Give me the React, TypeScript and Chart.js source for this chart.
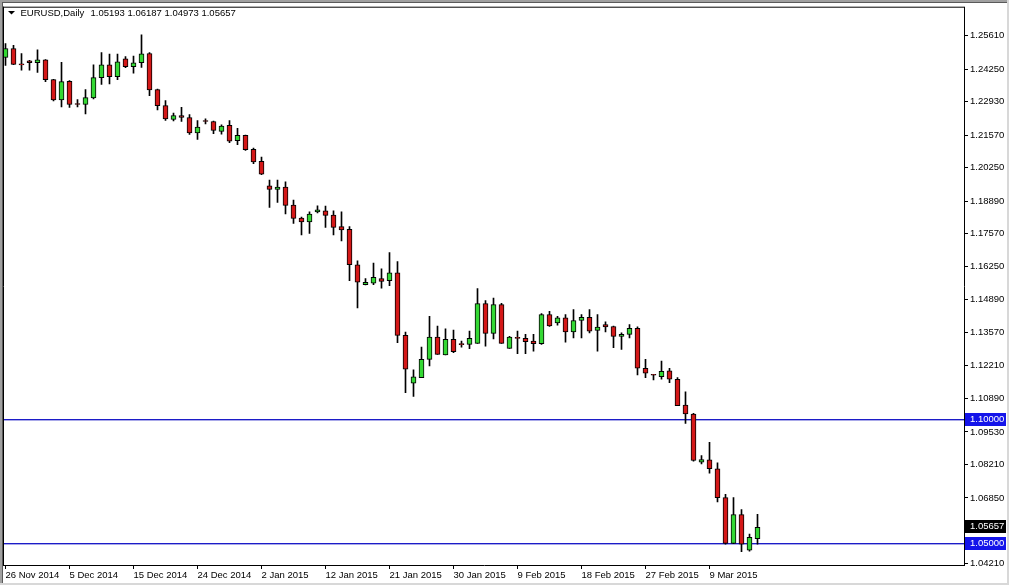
import React, { useEffect, useRef } from "react";
import { Chart, registerables } from "chart.js";

Chart.register(...registerables);

const symbolTitle = "EURUSD,Daily";
const lastOHLC = [1.05193, 1.06187, 1.04973, 1.05657];

const opens = [
  1.24722, 1.25085, 1.24427, 1.24588, 1.24508, 1.24629, 1.23821, 1.22998, 1.23753, 1.22824,
  1.22812, 1.23078, 1.23902, 1.24427, 1.23942, 1.24669, 1.24346, 1.24508, 1.24883, 1.23418,
  1.22771, 1.22206, 1.22368, 1.22287, 1.21665, 1.22138, 1.22125, 1.21722, 1.21964, 1.21342,
  1.21560, 1.20995, 1.20510, 1.19513, 1.19364, 1.19460, 1.18734, 1.18209, 1.18047, 1.18451,
  1.18504, 1.18330, 1.17857, 1.17748, 1.16311, 1.15503, 1.15568, 1.15746, 1.15665, 1.15988,
  1.13444, 1.11506, 1.11732, 1.12475, 1.13376, 1.12649, 1.13283, 1.13081, 1.13081, 1.13121,
  1.14736, 1.13525, 1.14696, 1.12919, 1.13363, 1.13323, 1.13214, 1.13105, 1.14292, 1.13953,
  1.14155, 1.13589, 1.14050, 1.14183, 1.13646, 1.13888, 1.13807, 1.13404, 1.13485, 1.13727,
  1.12112, 1.11841, 1.11773, 1.12003, 1.11667, 1.10618, 1.10254, 1.08300, 1.08397, 1.08034,
  1.06863, 1.05005, 1.06176, 1.04735, 1.05193,
];
const highs = [
  1.25287, 1.25218, 1.24883, 1.24601, 1.25033, 1.24641, 1.23833, 1.24520, 1.23781, 1.23014,
  1.23418, 1.24427, 1.24924, 1.24855, 1.24855, 1.24762, 1.24774, 1.25638, 1.24924, 1.23442,
  1.22973, 1.22461, 1.22703, 1.22408, 1.22166, 1.22230, 1.22138, 1.21988, 1.22166, 1.21843,
  1.21572, 1.21047, 1.20684, 1.19743, 1.19743, 1.19674, 1.18936, 1.18249, 1.18463, 1.18705,
  1.18693, 1.18504, 1.18463, 1.17857, 1.16472, 1.15746, 1.16376, 1.16149, 1.16808, 1.16444,
  1.13577, 1.12043, 1.12972, 1.14223, 1.13820, 1.13711, 1.13658, 1.13214, 1.13618, 1.15342,
  1.14857, 1.14962, 1.14748, 1.13404, 1.13618, 1.13485, 1.13485, 1.14332, 1.14425, 1.14223,
  1.14292, 1.14494, 1.14292, 1.14494, 1.14292, 1.13993, 1.13820, 1.13549, 1.13888, 1.13791,
  1.12475, 1.11869, 1.12406, 1.12112, 1.11732, 1.11155, 1.10278, 1.08571, 1.09108, 1.08276,
  1.06996, 1.06863, 1.06378, 1.05381, 1.06187,
];
const lows = [
  1.24399, 1.24427, 1.24209, 1.24209, 1.24116, 1.23741, 1.22957, 1.22715, 1.22691, 1.22715,
  1.22432, 1.23038, 1.23632, 1.23644, 1.23821, 1.24306, 1.24088, 1.24318, 1.23175, 1.22594,
  1.22166, 1.22150, 1.22125, 1.21601, 1.21399, 1.22029, 1.21625, 1.21613, 1.21261, 1.21181,
  1.20954, 1.20413, 1.19969, 1.18637, 1.18839, 1.18370, 1.17991, 1.17522, 1.17587, 1.18411,
  1.17829, 1.17522, 1.17280, 1.15665, 1.14559, 1.15495, 1.15503, 1.15366, 1.15463, 1.13145,
  1.11126, 1.10965, 1.11732, 1.12205, 1.12677, 1.12649, 1.12742, 1.12972, 1.12903, 1.13121,
  1.13012, 1.13307, 1.13121, 1.12919, 1.12701, 1.12701, 1.12810, 1.13081, 1.13807, 1.13860,
  1.13174, 1.13347, 1.13347, 1.13549, 1.12810, 1.13589, 1.12943, 1.12879, 1.13347, 1.11841,
  1.11732, 1.11639, 1.11667, 1.11530, 1.10589, 1.09875, 1.08340, 1.08235, 1.07856, 1.06685,
  1.04977, 1.04995, 1.04666, 1.04694, 1.04973,
];
const closes = [
  1.25085, 1.24439, 1.24419, 1.24508, 1.24629, 1.23821, 1.22998, 1.23741, 1.22812, 1.22812,
  1.23094, 1.23902, 1.24427, 1.23942, 1.24548, 1.24346, 1.24508, 1.24871, 1.23401, 1.22771,
  1.22230, 1.22368, 1.22287, 1.21665, 1.21895, 1.22125, 1.21762, 1.21936, 1.21330, 1.21560,
  1.20979, 1.20482, 1.19985, 1.19364, 1.19460, 1.18718, 1.18193, 1.18047, 1.18370, 1.18544,
  1.18314, 1.17829, 1.17724, 1.16311, 1.15608, 1.15596, 1.15798, 1.15637, 1.15988, 1.13444,
  1.12071, 1.11760, 1.12475, 1.13376, 1.12677, 1.13283, 1.12782, 1.13073, 1.13323, 1.14736,
  1.13525, 1.14696, 1.13121, 1.13376, 1.13323, 1.13186, 1.13105, 1.14292, 1.13832, 1.14155,
  1.13589, 1.14050, 1.14183, 1.13618, 1.13779, 1.13791, 1.13404, 1.13485, 1.13727, 1.12112,
  1.11910, 1.11829, 1.11982, 1.11667, 1.10589, 1.10254, 1.08369, 1.08409, 1.08034, 1.06863,
  1.05005, 1.06176, 1.04977, 1.05247, 1.05657,
];

const dateLabels = [
  "26 Nov 2014", "5 Dec 2014", "15 Dec 2014", "24 Dec 2014", "2 Jan 2015", "12 Jan 2015",
  "21 Jan 2015", "30 Jan 2015", "9 Feb 2015", "18 Feb 2015", "27 Feb 2015", "9 Mar 2015",
];
const barsPerDateLabel = 8;

const priceTicks = [
  1.2561, 1.2425, 1.2293, 1.2157, 1.2025, 1.1889, 1.1757, 1.1625, 1.1489, 1.1357,
  1.1221, 1.1089, 1.0953, 1.0821, 1.0685, 1.0421,
];
const horizontalLevels = [1.1, 1.05];
const bidPrice = 1.05657;

const BULL = "#34d834";
const BEAR = "#d41818";
const LEVEL_LINE = "#1c1cc8";
const LEVEL_LINE_SOFT = "rgba(40, 40, 200, 0.4)";
const LEVEL_BOX = "#1414ea";
const FONT = "'Liberation Sans', Arial, sans-serif";
const FONT_SIZE = 9.5;

const mt4Plugin = {
  id: "mt4Decor",
  beforeDraw(chart: any) {
    const ctx = chart.ctx;
    ctx.save();
    ctx.fillStyle = "#ffffff";
    ctx.fillRect(0, 0, chart.width, chart.height);
    ctx.restore();
  },
  beforeDatasetsDraw(chart: any) {
    const { ctx, chartArea, scales } = chart;
    ctx.save();
    horizontalLevels.forEach((v) => {
      const py = Math.round(scales.y.getPixelForValue(v)) - 1;
      ctx.fillStyle = LEVEL_LINE;
      ctx.fillRect(chartArea.left, py, chartArea.right - chartArea.left, 1);
      ctx.fillStyle = LEVEL_LINE_SOFT;
      ctx.fillRect(chartArea.left, py + 1, chartArea.right - chartArea.left, 1);
    });
    ctx.restore();
  },
  afterDraw(chart: any) {
    const { ctx, chartArea, scales } = chart;
    const W = chart.width;
    const H = chart.height;
    ctx.save();
    // window edges
    ctx.fillStyle = "#a0a0a0";
    ctx.fillRect(0, 0, W, 2);
    ctx.fillRect(0, 0, 2, H);
    ctx.fillStyle = "#5a5a5a";
    ctx.fillRect(2, 2, W - 2, 1);
    ctx.fillRect(2, 2, 1, H - 2);
    ctx.fillStyle = "#d8d8d8";
    ctx.fillRect(0, H - 2, W, 2);
    ctx.fillRect(W - 2, 0, 2, H);
    // plot frame top / left
    ctx.strokeStyle = "#000";
    ctx.lineWidth = 1;
    ctx.beginPath();
    ctx.moveTo(chartArea.left - 1, chartArea.top - 0.5);
    ctx.lineTo(chartArea.right + 1, chartArea.top - 0.5);
    ctx.moveTo(chartArea.left - 0.5, chartArea.top - 1);
    ctx.lineTo(chartArea.left - 0.5, chartArea.bottom + 1);
    ctx.stroke();

    // header
    ctx.fillStyle = "#000";
    ctx.beginPath();
    ctx.moveTo(8, 11);
    ctx.lineTo(15, 11);
    ctx.lineTo(11.5, 14.5);
    ctx.closePath();
    ctx.fill();
    ctx.font = `${FONT_SIZE}px ${FONT}`;
    ctx.textBaseline = "alphabetic";
    ctx.textAlign = "left";
    ctx.fillText(symbolTitle, 20.5, 16);
    ctx.fillText(lastOHLC.map((v) => v.toFixed(5)).join(" "), 90.5, 16);

    // price labels on the right scale
    const boxX = chartArea.right + 1;
    const boxW = 41;
    const drawBox = (value: number, bg: string) => {
      const py = scales.y.getPixelForValue(value);
      ctx.fillStyle = bg;
      ctx.fillRect(boxX, Math.round(py) - 7, boxW, 13);
      ctx.fillStyle = "#fff";
      ctx.textBaseline = "middle";
      ctx.fillText(value.toFixed(5), boxX + 5, Math.round(py) - 0.5);
    };
    horizontalLevels.forEach((v) => drawBox(v, LEVEL_BOX));
    drawBox(bidPrice, "#000000");
    ctx.restore();
  },
};

export default function App() {
  const canvasRef = useRef<HTMLCanvasElement | null>(null);

  useEffect(() => {
    if (!canvasRef.current) return;
    const idx = opens.map((_, i) => i);
    const bodies = idx.map((i) => ({ x: i, y: [opens[i], closes[i]] }));
    const wicks = idx.map((i) => ({ x: i, y: [lows[i], highs[i]] }));

    const chart = new Chart(canvasRef.current, {
      type: "bar",
      data: {
        datasets: [
          {
            data: bodies as any,
            backgroundColor: idx.map((i) => (closes[i] >= opens[i] ? BULL : BEAR)),
            borderColor: "#000",
            borderWidth: 1,
            borderSkipped: false,
            barThickness: 5,
            grouped: false,
            minBarLength: 1,
            order: 0,
          },
          {
            data: wicks as any,
            backgroundColor: "#000",
            borderWidth: 0,
            barThickness: 1,
            grouped: false,
            order: 1,
          },
        ],
      },
      options: {
        animation: false,
        responsive: false,
        devicePixelRatio: 1,
        layout: { padding: { left: 4, top: 5, right: 0, bottom: 0 } },
        plugins: {
          legend: { display: false },
          tooltip: { enabled: false },
          title: { display: false },
        },
        scales: {
          x: {
            type: "linear",
            position: "bottom",
            min: -0.1875,
            max: 119.8125,
            offset: false,
            afterBuildTicks: (s: any) => {
              s.ticks = dateLabels.map((_, k) => ({ value: k * barsPerDateLabel }));
            },
            afterFit: (s: any) => {
              s.height = 20;
            },
            grid: {
              display: true,
              offset: false,
              drawOnChartArea: false,
              drawTicks: true,
              tickLength: 4,
              color: "#000",
            },
            border: { display: true, color: "#000" },
            ticks: {
              autoSkip: false,
              maxRotation: 0,
              minRotation: 0,
              align: "start",
              padding: 1,
              color: "#000",
              font: { family: FONT, size: FONT_SIZE },
              callback: (v: any) => dateLabels[Math.round(Number(v) / barsPerDateLabel)] ?? "",
            },
          },
          y: {
            type: "linear",
            position: "right",
            min: 1.04129,
            max: 1.26741,
            beginAtZero: false,
            afterBuildTicks: (s: any) => {
              s.ticks = priceTicks.map((v) => ({ value: v }));
            },
            afterFit: (s: any) => {
              s.width = 45;
            },
            grid: {
              display: true,
              drawOnChartArea: false,
              drawTicks: true,
              tickLength: 4,
              color: "#000",
            },
            border: { display: true, color: "#000" },
            ticks: {
              autoSkip: false,
              padding: 2,
              color: "#000",
              font: { family: FONT, size: FONT_SIZE },
              callback: (v: any) => Number(v).toFixed(5),
            },
          },
        },
      } as any,
      plugins: [mt4Plugin],
    });
    return () => chart.destroy();
  }, []);

  return (
    <div style={{ position: "fixed", left: 0, top: 0, width: 1009, height: 585, background: "#fff" }}>
      <canvas ref={canvasRef} width={1009} height={585} style={{ display: "block" }} />
    </div>
  );
}
